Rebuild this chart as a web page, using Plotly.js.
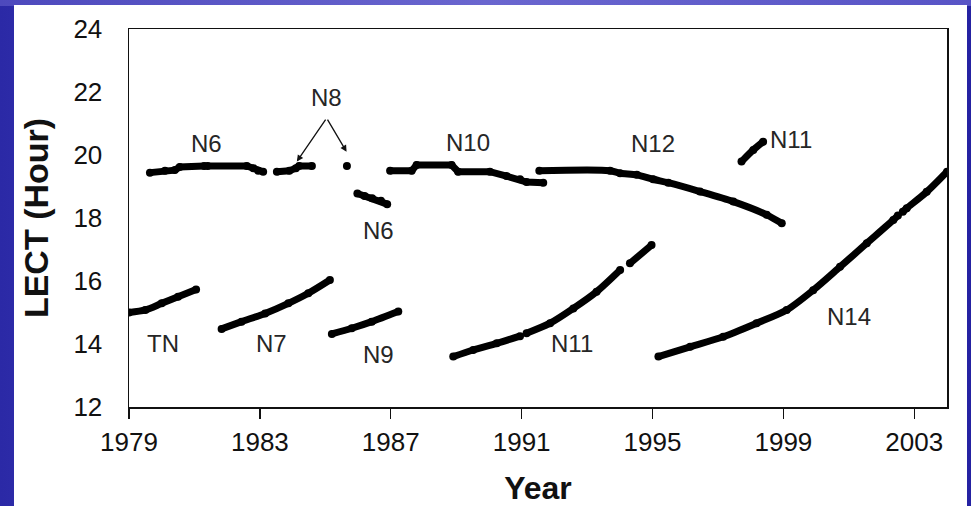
<!DOCTYPE html>
<html>
<head>
<meta charset="utf-8">
<script src="https://cdn.plot.ly/plotly-3.0.1.min.js"></script>
<style>
  html, body { margin: 0; padding: 0; width: 971px; height: 506px; overflow: hidden; }
  body {
    background: linear-gradient(to right, #2b29a6 0%, #4744bd 30%, #5552c4 55%, #3a37b3 85%, #2522a2 100%);
  }
  #top { position: absolute; left: 0; top: 0; width: 971px; height: 6px;
    background: linear-gradient(to right, #4d49bd, #6a66cf 50%, #5854c6); }
  #chart { position: absolute; left: 14px; top: 5px; width: 953px; height: 501px; background: #fff; }
</style>
</head>
<body>
<div id="top"></div>
<div id="chart"></div>
<script>
// Local equator crossing time (hours) of the NOAA satellites, by year
const tnX  = [1979.0, 1979.5, 1980.0, 1980.5, 1981.05];
const tnY  = [15.00, 15.08, 15.29, 15.50, 15.73];

const n6aX = [1979.64, 1980.1, 1980.4, 1980.55, 1981.3, null, 1981.4, 1982.6, 1982.8, 1982.95, 1983.1];
const n6aY = [19.44, 19.50, 19.52, 19.62, 19.65, null, 19.65, 19.65, 19.58, 19.50, 19.47];

const n7X  = [1981.83, 1982.44, 1983.16, 1983.87, 1984.48, 1985.14];
const n7Y  = [14.48, 14.71, 14.97, 15.29, 15.61, 16.03];

const n8X  = [1983.52, 1983.9, 1984.1, 1984.2, 1984.59, null, 1985.66];
const n8Y  = [19.47, 19.50, 19.58, 19.65, 19.65, null, 19.65];

const n9X  = [1985.20, 1985.81, 1986.42, 1987.23];
const n9Y  = [14.32, 14.50, 14.71, 15.03];

const n6bX = [1985.98, 1986.2, 1986.43, 1986.7, 1986.89];
const n6bY = [18.78, 18.70, 18.63, 18.55, 18.44];

const n10X = [1986.98, 1987.64, 1987.79, 1988.86, 1989.06, 1990.03, 1990.54, 1990.95, 1991.15, 1991.66];
const n10Y = [19.50, 19.50, 19.68, 19.68, 19.47, 19.47, 19.33, 19.23, 19.14, 19.12];

const n11aX = [1988.91, 1989.52, 1990.24, 1990.95, null, 1991.15, 1991.87, 1992.58, 1993.29, 1994.01, null, 1994.31, 1994.97];
const n11aY = [13.60, 13.81, 14.02, 14.25, null, 14.34, 14.66, 15.13, 15.66, 16.35, null, 16.56, 17.14];

const n12X = [1991.54, 1993.70, 1994.01, 1994.52, 1995.02, 1995.48, 1996.45, 1997.47, 1998.49, 1998.95];
const n12Y = [19.50, 19.50, 19.42, 19.37, 19.23, 19.12, 18.84, 18.52, 18.10, 17.83];

const n11bX = [1997.72, 1998.08, 1998.38];
const n11bY = [19.79, 20.16, 20.42];

const n14X = [1995.18, 1996.15, 1997.16, 1998.18, 1999.10, 1999.91, 2000.73, 2001.55, 2002.36, 2002.5, null, 2002.65, 2002.77, 2003.38, 2004.0];
const n14Y = [13.60, 13.91, 14.23, 14.66, 15.08, 15.71, 16.45, 17.20, 17.94, 18.08, null, 18.20, 18.31, 18.83, 19.47];

const yearTicks = [1979, 1983, 1987, 1991, 1995, 1999, 2003];
const hourTicks = [12, 14, 16, 18, 20, 22, 24];

// Satellite labels: [text, year, hour]
const labels = [
  ['N6', 1981.38, 20.35], ['N8', 1985.05, 21.84], ['N10', 1989.36, 20.41],
  ['N12', 1995.01, 20.38], ['N11', 1999.23, 20.48], ['N6', 1986.64, 17.59],
  ['TN', 1980.04, 14.03], ['N7', 1983.37, 14.03], ['N9', 1986.64, 13.68],
  ['N11', 1992.54, 14.03], ['N14', 2001.0, 14.86]
];
// N8 pointer: apex and the two tips
const n8Apex = [1985.04, 21.17];
const n8Tips = [[1984.13, 19.79], [1985.65, 20.10]];

// [x, y, smooth curve?]
const series = [
  [tnX, tnY, true], [n6aX, n6aY, false], [n7X, n7Y, true], [n8X, n8Y, false],
  [n9X, n9Y, true], [n6bX, n6bY, false], [n10X, n10Y, false], [n11aX, n11aY, true],
  [n12X, n12Y, true], [n11bX, n11bY, true], [n14X, n14Y, true]
];

const traces = series.map(([x, y, smooth]) => ({
  x: x, y: y, type: 'scatter', mode: 'lines+markers',
  connectgaps: false,
  line: { color: '#000', width: 7, shape: smooth ? 'spline' : 'linear', smoothing: 0.8 },
  marker: { color: '#000', size: 8 },
  hoverinfo: 'skip', showlegend: false
}));

const font = 'Liberation Sans, Arial, sans-serif';

const annotations = labels.map(([t, x, y]) => ({
  x: x, y: y, xref: 'x', yref: 'y', text: t, showarrow: false,
  font: { family: font, size: 24, color: '#262626' }
}));
n8Tips.forEach(([x, y]) => annotations.push({
  x: x, y: y, xref: 'x', yref: 'y', ax: n8Apex[0], ay: n8Apex[1], axref: 'x', ayref: 'y',
  text: '', showarrow: true, arrowhead: 2, arrowsize: 1, arrowwidth: 1.3, arrowcolor: '#111'
}));

const layout = {
  width: 953, height: 501,
  margin: { l: 115, r: 20, t: 24, b: 99 },
  paper_bgcolor: '#fff', plot_bgcolor: '#fff',
  font: { family: font, color: '#111' },
  xaxis: {
    range: [1979, 2004], tickvals: yearTicks, ticktext: yearTicks.map(String),
    ticks: 'outside', ticklen: 10, tickwidth: 1.3, tickcolor: '#111',
    showline: true, linecolor: '#111', linewidth: 1.5, mirror: true,
    showgrid: false, zeroline: false, ticklabelstandoff: 1,
    tickfont: { family: font, size: 26, color: '#111' },
    title: { text: 'Year', font: { family: font, size: 32, color: '#111', weight: 'bold' }, standoff: 26 }
  },
  yaxis: {
    range: [12, 24], tickvals: hourTicks, ticktext: hourTicks.map(String),
    ticks: '', showline: true, linecolor: '#111', linewidth: 1.5, mirror: true,
    showgrid: false, zeroline: false, ticklabelstandoff: 20,
    tickfont: { family: font, size: 26, color: '#111' },
    title: { text: 'LECT (Hour)', font: { family: font, size: 34, color: '#111', weight: 'bold' }, standoff: 14 }
  },
  yaxis2: {
    overlaying: 'y', side: 'right', range: [12, 24], tickvals: hourTicks,
    ticks: 'inside', ticklen: 8, tickwidth: 1.3, tickcolor: '#333',
    showticklabels: false, showgrid: false, zeroline: false, showline: false
  },
  annotations: annotations
};

Plotly.newPlot('chart', traces, layout, { staticPlot: true });
</script>
</body>
</html>
